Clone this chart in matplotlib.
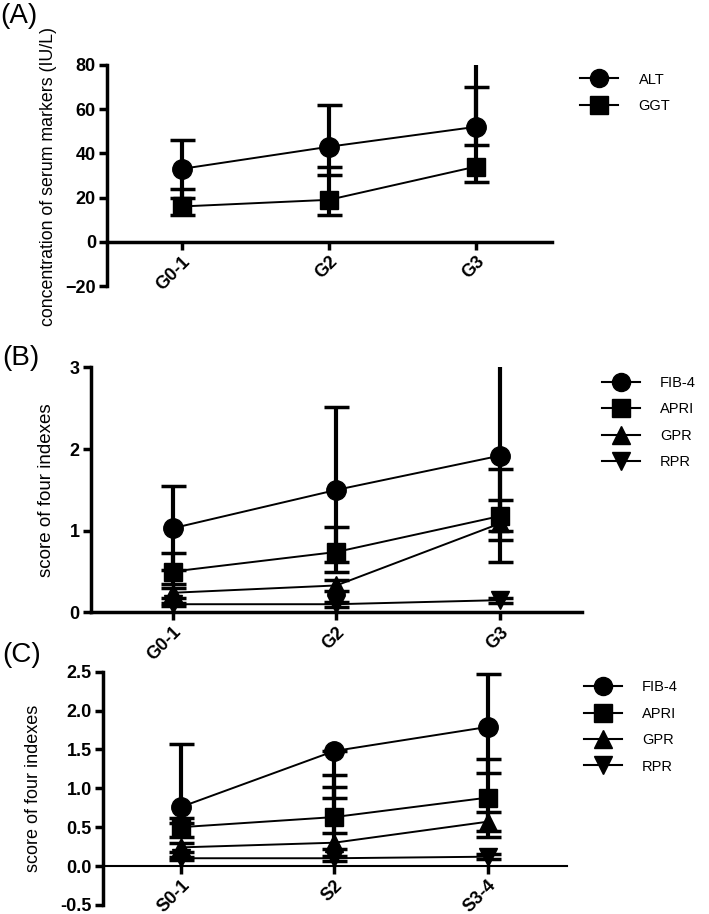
import matplotlib
matplotlib.use("Agg")
import matplotlib.pyplot as plt
from matplotlib.lines import Line2D
import numpy as np

plt.rcParams['font.family'] = ['Liberation Sans', 'DejaVu Sans']

# panel A: serum markers by grade
grades = ["G0-1", "G2", "G3"]
alt_mean = [33, 43, 52]
alt_lo = [20, 30, 44]
alt_hi = [46, 62, 88]
ggt_mean = [16, 19, 34]
ggt_lo = [12, 12, 27]
ggt_hi = [24, 34, 70]

# panel B: four indexes by grade
b_fib4 = [1.03, 1.50, 1.92]
b_fib4_lo = [0.52, 0.49, 0.62]
b_fib4_hi = [1.55, 2.52, 3.40]
b_apri = [0.50, 0.74, 1.18]
b_apri_lo = [0.35, 0.62, 0.89]
b_apri_hi = [0.73, 1.04, 1.38]
b_gpr = [0.24, 0.33, 1.09]
b_gpr_lo = [0.18, 0.26, 1.00]
b_gpr_hi = [0.30, 0.40, 1.76]
b_rpr = [0.10, 0.10, 0.15]
b_rpr_lo = [0.08, 0.07, 0.12]
b_rpr_hi = [0.12, 0.13, 0.18]

# panel C: four indexes by stage
stages = ["S0-1", "S2", "S3-4"]
c_fib4 = [0.76, 1.48, 1.79]
c_fib4_lo = [0.55, 0.88, 1.20]
c_fib4_hi = [1.57, 1.48, 2.47]
c_apri = [0.50, 0.63, 0.88]
c_apri_lo = [0.37, 0.43, 0.37]
c_apri_hi = [0.62, 1.17, 1.38]
c_gpr = [0.24, 0.30, 0.57]
c_gpr_lo = [0.18, 0.22, 0.45]
c_gpr_hi = [0.30, 1.02, 0.70]
c_rpr = [0.10, 0.10, 0.12]
c_rpr_lo = [0.08, 0.07, 0.09]
c_rpr_hi = [0.12, 0.13, 0.15]

index_names = ["FIB-4", "APRI", "GPR", "RPR"]
markers4 = ["o", "s", "^", "v"]


def draw_series(ax, mean, lo, hi, marker, ms):
    x = np.arange(len(mean))
    mean = np.array(mean)
    yerr = [mean - np.array(lo), np.array(hi) - mean]
    ax.errorbar(x, mean, yerr=yerr, fmt="none", ecolor="black",
                elinewidth=3, capsize=9, capthick=2.5, zorder=2)
    ax.plot(x, mean, color="black", lw=1.4, marker=marker, ms=ms,
            mfc="black", mec="black", zorder=3)


def style_axis(ax, labels, ylim, yticks, fmt=None):
    ax.set_xlim(-0.51, 2.52)
    ax.set_ylim(*ylim)
    for s in ["top", "right"]:
        ax.spines[s].set_visible(False)
    ax.spines["left"].set_linewidth(2.5)
    ax.spines["bottom"].set_linewidth(2.5)
    ax.spines["bottom"].set_position(("data", 0))
    ax.set_xticks(range(len(labels)))
    ax.set_xticklabels(labels, rotation=45, ha="right", rotation_mode="anchor",
                       fontsize=13, fontweight="bold")
    ax.set_yticks(yticks)
    if fmt:
        ax.set_yticklabels([fmt.format(t) for t in yticks])
    for t in ax.get_yticklabels():
        t.set_fontweight("bold")
        t.set_fontsize(13)
    ax.tick_params(axis="both", width=2.5, length=6, direction="out", pad=2)


def add_legend(ax, names, marks, x, y):
    handles = [Line2D([], [], color="black", lw=1.5, marker=m, ms=13,
                      mfc="black", mec="black") for m in marks]
    ax.legend(handles, names, loc="upper left", bbox_to_anchor=(x, y),
              bbox_transform=fig.transFigure, frameon=False, fontsize=10.5,
              handlelength=2.6, labelspacing=0.85, handletextpad=1.4)


fig = plt.figure(figsize=(7.09, 9.14), dpi=100)

# (A)
axA = fig.add_axes([0.151, 0.687, 0.628, 0.242])
draw_series(axA, alt_mean, alt_lo, alt_hi, "o", 14)
draw_series(axA, ggt_mean, ggt_lo, ggt_hi, "s", 13)
style_axis(axA, grades, (-20, 80), [-20, 0, 20, 40, 60, 80])
add_legend(axA, ["ALT", "GGT"], ["o", "s"], 0.8, 0.935)

# (B)
axB = fig.add_axes([0.128, 0.330, 0.693, 0.268])
for m, lo, hi, mk in zip([b_fib4, b_apri, b_gpr, b_rpr],
                         [b_fib4_lo, b_apri_lo, b_gpr_lo, b_rpr_lo],
                         [b_fib4_hi, b_apri_hi, b_gpr_hi, b_rpr_hi], markers4):
    draw_series(axB, m, lo, hi, mk, 14 if mk == "o" else 13)
style_axis(axB, grades, (0, 3), [0, 1, 2, 3])
axB.set_xlim(-0.5, 2.5)
add_legend(axB, index_names, markers4, 0.83, 0.603)

# (C)
axC = fig.add_axes([0.145, 0.010, 0.655, 0.255])
for m, lo, hi, mk in zip([c_fib4, c_apri, c_gpr, c_rpr],
                         [c_fib4_lo, c_apri_lo, c_gpr_lo, c_rpr_lo],
                         [c_fib4_hi, c_apri_hi, c_gpr_hi, c_rpr_hi], markers4):
    draw_series(axC, m, lo, hi, mk, 14 if mk == "o" else 13)
style_axis(axC, stages, (-0.5, 2.5), [-0.5, 0.0, 0.5, 1.0, 1.5, 2.0, 2.5], "{:.1f}")
axC.spines["bottom"].set_linewidth(1.5)
add_legend(axC, index_names, markers4, 0.805, 0.27)

# axis titles and panel letters
fig.text(0.068, 0.807, "concentration of serum markers (IU/L)", rotation=90,
         ha="center", va="center", fontsize=12.8)
fig.text(0.065, 0.464, "score of four indexes", rotation=90,
         ha="center", va="center", fontsize=13.5)
fig.text(0.047, 0.137, "score of four indexes", rotation=90,
         ha="center", va="center", fontsize=13)
fig.text(0.0, 0.997, "(A)", ha="left", va="top", fontsize=20)
fig.text(0.003, 0.622, "(B)", ha="left", va="top", fontsize=20)
fig.text(0.003, 0.298, "(C)", ha="left", va="top", fontsize=20)

fig.savefig("out.png", dpi=100)
